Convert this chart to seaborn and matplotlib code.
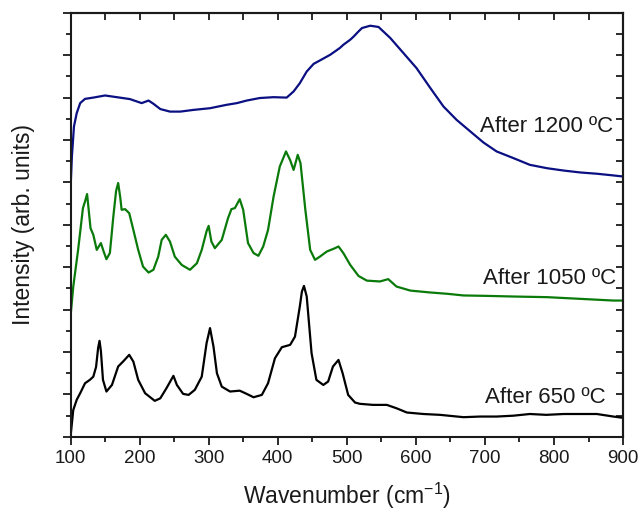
import numpy as np
import pandas as pd
import seaborn as sns
import matplotlib
matplotlib.use("Agg")
import matplotlib.pyplot as plt
from matplotlib.ticker import MultipleLocator, NullFormatter

# Raman spectra (stacked, arb. units) after annealing at three temperatures
wn_650 = [100, 104, 109, 114, 121, 128, 133, 137, 140, 142, 144, 147, 152, 160, 169, 176,
          185, 191, 198, 208, 222, 230, 239, 249, 254, 263, 271, 280, 290, 297, 302, 307,
          312, 319, 331, 345, 355, 365, 377, 386, 396, 406, 418, 425, 432, 435, 438, 442,
          449, 456, 466, 473, 480, 488, 494, 502, 512, 519, 538, 558, 572, 587, 611, 635,
          669, 693, 717, 741, 765, 789, 814, 838, 862, 886, 900]
int_650 = [0.0, 1.27, 1.75, 2.06, 2.53, 2.69, 2.84, 3.30, 4.20, 4.53, 4.05, 2.69, 2.14, 2.45,
           3.32, 3.55, 3.87, 3.55, 2.69, 2.06, 1.70, 1.82, 2.30, 2.88, 2.45, 2.03, 1.98, 2.22,
           2.84, 4.42, 5.13, 4.26, 3.00, 2.37, 2.14, 2.18, 2.03, 1.87, 1.98, 2.53, 3.71, 4.23,
           4.34, 4.73, 6.15, 6.85, 7.12, 6.62, 3.95, 2.69, 2.45, 2.61, 3.32, 3.63, 3.00, 1.98,
           1.62, 1.56, 1.51, 1.51, 1.35, 1.15, 1.08, 1.04, 0.93, 0.96, 0.96, 1.00, 1.08, 1.04,
           1.08, 1.08, 1.08, 0.96, 0.90]

wn_1050 = [100, 104, 111, 118, 121, 124, 129, 133, 138, 144, 148, 152, 157, 162, 166, 169,
           172, 174, 179, 185, 191, 198, 205, 213, 220, 227, 232, 238, 244, 251, 261, 273,
           283, 290, 297, 300, 304, 309, 319, 328, 333, 338, 345, 350, 357, 365, 372, 379,
           386, 394, 403, 412, 418, 423, 429, 433, 440, 447, 454, 461, 471, 483, 488, 495,
           505, 517, 529, 548, 560, 572, 592, 621, 645, 669, 703, 741, 790, 838, 886, 900]
int_1050 = [5.67, 7.09, 8.82, 10.79, 11.10, 11.45, 9.84, 9.53, 8.82, 9.14, 8.74, 8.38, 8.67,
            10.39, 11.60, 11.97, 11.30, 10.71, 10.74, 10.55, 9.76, 8.82, 8.03, 7.75, 7.88,
            8.50, 9.29, 9.53, 9.21, 8.50, 8.11, 7.88, 8.19, 8.82, 9.70, 9.95, 9.21, 8.90,
            9.29, 10.31, 10.74, 10.79, 11.21, 10.71, 9.14, 8.67, 8.54, 8.98, 9.76, 11.33,
            12.75, 13.46, 13.05, 12.59, 13.30, 12.91, 10.71, 8.82, 8.35, 8.50, 8.74, 8.90,
            8.98, 8.67, 8.11, 7.59, 7.37, 7.33, 7.44, 7.09, 6.90, 6.81, 6.75, 6.67, 6.65,
            6.62, 6.59, 6.51, 6.43, 6.43]

wn_1200 = [100, 102, 105, 109, 114, 121, 133, 150, 167, 186, 203, 213, 220, 230, 244, 259,
           278, 302, 326, 341, 355, 374, 394, 413, 423, 432, 442, 452, 461, 476, 490, 495,
           505, 510, 517, 522, 534, 546, 563, 582, 601, 621, 640, 659, 679, 698, 717, 741,
           765, 790, 814, 838, 862, 886, 900]
int_1200 = [11.65, 13.22, 14.64, 15.27, 15.74, 15.94, 16.00, 16.10, 16.02, 15.93, 15.74,
            15.86, 15.71, 15.46, 15.34, 15.34, 15.42, 15.50, 15.66, 15.74, 15.86, 15.98,
            16.02, 16.00, 16.29, 16.68, 17.23, 17.59, 17.75, 18.02, 18.34, 18.49, 18.73,
            18.88, 19.12, 19.28, 19.39, 19.33, 18.81, 18.10, 17.39, 16.45, 15.58, 14.95,
            14.40, 13.88, 13.46, 13.15, 12.83, 12.67, 12.56, 12.47, 12.41, 12.33, 12.28]

labels = ["After 650 ºC", "After 1050 ºC", "After 1200 ºC"]
colors = ["#000000", "#0a7a0a", "#0a0f82"]

sns.set_style("ticks")
plt.rcParams["font.family"] = ["Liberation Sans", "DejaVu Sans"]

fig = plt.figure(figsize=(6.41, 5.11), dpi=100)
ax = fig.add_axes([0.110, 0.145, 0.862, 0.830])

spectra = [(wn_650, int_650), (wn_1050, int_1050), (wn_1200, int_1200)]
for (wn, inten), color in zip(spectra, colors):
    df = pd.DataFrame({"wn": wn, "I": inten})
    sns.lineplot(data=df, x="wn", y="I", ax=ax, color=color, lw=1.6,
                 estimator=None, sort=False)

# curve annotations
ax.text(875, 1.84, labels[0], ha="right", va="center", fontsize=16, color="#1a1a1a")
ax.text(890, 7.45, labels[1], ha="right", va="center", fontsize=16, color="#1a1a1a")
ax.text(885, 14.62, labels[2], ha="right", va="center", fontsize=16, color="#1a1a1a")

ax.set_xlim(100, 900)
ax.set_ylim(0, 20)
ax.set_xlabel("Wavenumber (cm$^{\\mathregular{-1}}$)", fontsize=16.5, labelpad=10,
              color="#1a1a1a")
ax.set_ylabel("Intensity (arb. units)", fontsize=16.5, labelpad=16, color="#1a1a1a")

ax.xaxis.set_major_locator(MultipleLocator(100))
ax.xaxis.set_minor_locator(MultipleLocator(50))
ax.yaxis.set_major_locator(MultipleLocator(2))
ax.yaxis.set_minor_locator(MultipleLocator(1))
ax.yaxis.set_major_formatter(NullFormatter())
ax.tick_params(axis="both", which="major", direction="out", length=6, width=1.3,
               labelsize=13.5, colors="#1a1a1a")
ax.tick_params(axis="both", which="minor", direction="out", length=3.5, width=1.3,
               colors="#1a1a1a")

for sp in ax.spines.values():
    sp.set_linewidth(1.5)
    sp.set_color("#1a1a1a")
    sp.set_visible(True)

# inward ticks on the top and right frame
top = ax.secondary_xaxis("top")
top.xaxis.set_major_locator(MultipleLocator(50))
top.xaxis.set_major_formatter(NullFormatter())
top.tick_params(direction="in", length=5, width=1.3, colors="#1a1a1a")
top.spines["top"].set_linewidth(1.5)

right = ax.secondary_yaxis("right")
right.yaxis.set_major_locator(MultipleLocator(1))
right.yaxis.set_major_formatter(NullFormatter())
right.tick_params(direction="in", length=5, width=1.3, colors="#1a1a1a")
right.spines["right"].set_linewidth(1.5)

fig.savefig("out.png", dpi=100)
